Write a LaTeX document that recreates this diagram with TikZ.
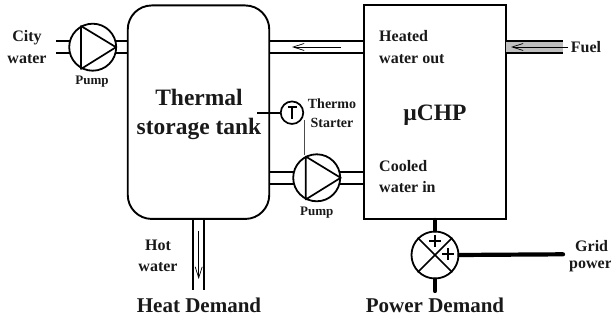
\documentclass[tikz,border=0pt]{standalone}
\usepackage{fontspec}
\setmainfont{Liberation Serif}
\usetikzlibrary{arrows.meta,calc}
\tikzset{
  wall/.style={draw=black,line width=1.9pt},
  pipeline/.style={draw=black,line width=1.9pt},
  flow/.style={draw=black,line width=0.8pt,-{Straight Barb[length=11pt,width=7pt,line width=0.7pt]}},
  pumpcircle/.style={circle,draw=black,line width=1.8pt,minimum size=47pt,inner sep=0pt},
  lab/.style={font=\bfseries,align=center,inner sep=0pt,text=black!90},
  small/.style={lab,font=\fontsize{14}{19}\selectfont\bfseries},
  pumplab/.style={lab,font=\fontsize{13}{16}\selectfont\bfseries},
  medium/.style={lab,font=\fontsize{16}{21.5}\selectfont\bfseries},
  large/.style={lab,font=\fontsize{21}{25}\selectfont\bfseries},
  huge2/.style={lab,font=\fontsize{23.5}{29}\selectfont\bfseries},
  power/.style={draw=black,line width=4.2pt,line cap=round}
}
\begin{document}
\begin{tikzpicture}[x=1pt,y=-1pt]
\useasboundingbox (0,0) rectangle (611,320);
% tank and CHP
\node[wall,draw,rounded corners=24pt,minimum width=141.5pt,minimum height=213.5pt,inner sep=0pt] (tank) at (198.5,112.2) {};
\node[wall,draw,minimum width=142pt,minimum height=213.5pt,inner sep=0pt] (chp) at (435,112.2) {};
% fuel fill
\fill[black!25] (506,41) rectangle (563,53);
% pumps
\node[pumpcircle] (p1) at (92.7,47.2) {};
\node[pumpcircle] (p2) at (316.7,177.8) {};
\node[circle,draw=black,line width=1.7pt,minimum size=22.5pt,inner sep=0pt] (t) at (292,112.7) {};
\node[pumpcircle] (mix) at (435,255) {};
% pump triangles
\draw[line width=1.7pt,line join=round] (81,26) -- (81,69) -- (116,47.2) -- cycle;
\draw[line width=1.7pt,line join=round] (305.7,156.5) -- (305.7,199.5) -- (340.7,177.8) -- cycle;
% named pipe ends
\coordinate (cityA) at (56,41); \coordinate (cityB) at (56,53);
\coordinate (fuelA) at (563,41); \coordinate (fuelB) at (563,53);
\coordinate (hotA) at (192.7,290.5); \coordinate (hotB) at (204.3,290.5);
\coordinate (gridE) at (563,254.3); \coordinate (demE) at (435,291);
% pipes
\draw[pipeline] (cityA) -- (70,41) (cityB) -- (70,53);
\draw[pipeline] (115,41) -- (127.7,41) (115,53) -- (127.7,53);
\draw[pipeline] (269,41) -- (364,41) (269,53) -- (364,53);
\draw[pipeline] (506,41) -- (fuelA) (506,53) -- (fuelB);
\draw[pipeline] (269,172) -- (294,172) (269,184) -- (294,184);
\draw[pipeline] (339,172) -- (364,172) (339,184) -- (364,184);
\draw[pipeline] (192.7,219) -- (hotA) (204.3,219) -- (hotB);
% flow arrows
\draw[flow] (341,47) -- (292,47);
\draw[flow] (568,47) -- (511,47);
\draw[flow] (198.7,231) -- (198.7,279);
% thermo starter
\draw[line width=1.7pt] (257,112.7) -- (t.west);
\draw[line width=1.4pt] (287.5,107) -- (296.5,107) (292,107) -- (292,119);
\draw[line width=0.8pt,black!70] (304.3,120) -- (304.3,155);
% mixer
\draw[line width=1.6pt] (mix.north west) -- (mix.south east) (mix.north east) -- (mix.south west);
\draw[line width=1.8pt] (429,241) -- (441,241) (435,235) -- (435,247);
\draw[line width=1.8pt] (442,254.3) -- (454,254.3) (448,248.3) -- (448,260.3);
\draw[power] (chp.south -| mix) -- (mix.north);
\draw[power] (mix.south) -- (demE);
\draw[power] (mix.east) -- (gridE);
% labels
\node[medium] (city) at (27,47) {City\\water};
\node[pumplab] (pl1) at (92,82) {Pump};
\node[pumplab] (pl2) at (316.7,213) {Pump};
\node[huge2] (tl) at (199,114.5) {Thermal\\storage tank};
\node[small] (ts) at (332,113.5) {Thermo\\Starter};
\node[medium,align=left,anchor=west] (hw) at (379,47.3) {Heated\\water out};
\node[medium,align=left,anchor=west] (cw) at (379,176.5) {Cooled\\water in};
\node[huge2] (mu) at (435,115) {µCHP};
\node[medium] (fuel) at (586,47) {Fuel};
\node[medium] (hot) at (158,256) {Hot\\water};
\node[large] (hd) at (199,305) {Heat Demand};
\node[large] (pd) at (435,305) {Power Demand};
\node[medium,anchor=west] (grid) at (575,246) {Grid};
\node[medium,anchor=west] (pw) at (569,266.5) {power};
\end{tikzpicture}
\end{document}
